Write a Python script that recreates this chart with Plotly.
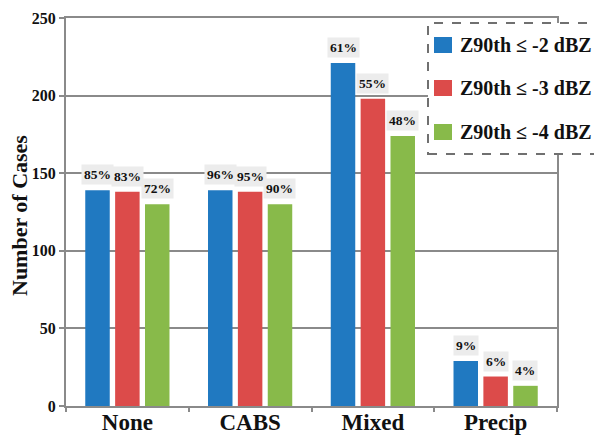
import plotly.graph_objects as go

categories = ["None", "CABS", "Mixed", "Precip"]
series_names = ["Z90th ≤ -2 dBZ", "Z90th ≤ -3 dBZ", "Z90th ≤ -4 dBZ"]
cases_2dbz = [139, 139, 221, 29]
cases_3dbz = [138, 138, 198, 19]
cases_4dbz = [130, 130, 174, 13]
pct_2dbz = ["85%", "96%", "61%", "9%"]
pct_3dbz = ["83%", "95%", "55%", "6%"]
pct_4dbz = ["72%", "90%", "48%", "4%"]
y_ticks = [0, 50, 100, 150, 200, 250]

colors = ["#2079c1", "#dc4b4a", "#88ba4a"]
font_family = "Liberation Serif"

# page body adds an 8px offset, so the figure is a bit smaller than the window
OFF = 8
W, H = 602 - OFF, 435 - OFF
# plot area in window pixels: x 66..557, y 18..406
L, R, T, B = 66 - OFF, 45, 18 - OFF, 29
PW, PH = W - L - R, H - T - B


def px(x):
    return (x - 66) / PW


def py(y):
    return (406 - y) / PH


bargap = 0.27
bargroupgap = 0.18
slot = (1 - bargap) / 3

values = [cases_2dbz, cases_3dbz, cases_4dbz]
pcts = [pct_2dbz, pct_3dbz, pct_4dbz]
xs = list(range(len(categories)))

fig = go.Figure()
for name, vals, col in zip(series_names, values, colors):
    fig.add_trace(go.Bar(x=xs, y=vals, name=name, marker=dict(color=col, line=dict(width=0)),
                         showlegend=False))

annotations = []
# percentage labels above bars
for j, (vals, labels) in enumerate(zip(values, pcts)):
    for i, (v, lab) in enumerate(zip(vals, labels)):
        annotations.append(dict(
            x=i + (j - 1) * slot, y=v, xref="x", yref="y", text="<b>%s</b>" % lab,
            showarrow=False, yanchor="bottom", yshift=5, bgcolor="#ececec", borderpad=2,
            font=dict(family=font_family, size=13.5, color="#111")))

# y axis title
annotations.append(dict(
    x=px(19), y=py(216), xref="paper", yref="paper", text="<b>Number of Cases</b>",
    textangle=-90, showarrow=False, xanchor="center", yanchor="middle",
    font=dict(family=font_family, size=22, color="#111")))

# manual legend with dashed box
shapes = [dict(type="rect", xref="paper", yref="paper", x0=px(428), x1=px(640), y0=py(154), y1=py(23),
               line=dict(color="#707070", width=2, dash="dash"), fillcolor="white", layer="above")]
row_y = [45, 88, 132]
for name, col, ry in zip(series_names, colors, row_y):
    shapes.append(dict(type="rect", xref="paper", yref="paper", x0=px(434), x1=px(452),
                       y0=py(ry + 8), y1=py(ry - 8), line=dict(width=0), fillcolor=col, layer="above"))
    annotations.append(dict(x=px(458), y=py(ry), xref="paper", yref="paper", text="<b>%s</b>" % name,
                            showarrow=False, xanchor="left", yanchor="middle",
                            font=dict(family=font_family, size=20, color="#111")))

fig.update_layout(
    width=W, height=H,
    margin=dict(l=L, r=R, t=T, b=B, autoexpand=False),
    paper_bgcolor="white", plot_bgcolor="white",
    barmode="group", bargap=bargap, bargroupgap=bargroupgap,
    shapes=shapes, annotations=annotations,
    showlegend=False,
)
fig.update_xaxes(
    range=[-0.5, len(categories) - 0.5], tickvals=xs, ticktext=["<b>%s</b>" % c for c in categories],
    tickfont=dict(family=font_family, size=23, color="#111"), showgrid=False, automargin=False,
    showline=True, linecolor="#8a8a8a", linewidth=2, mirror=True, ticks="", zeroline=False,
    ticklabelstandoff=-6,
    minor=dict(ticks="outside", tick0=0.5, dtick=1, ticklen=4, tickcolor="#8a8a8a", tickwidth=1.5),
)
fig.update_yaxes(
    range=[0, 250], tickvals=y_ticks, ticktext=["<b>%d</b>" % t for t in y_ticks],
    tickfont=dict(family=font_family, size=16, color="#111"), automargin=False,
    showgrid=True, gridcolor="#8a8a8a", gridwidth=2,
    showline=True, linecolor="#8a8a8a", linewidth=2, mirror=True,
    ticks="outside", ticklen=5, tickcolor="#8a8a8a", tickwidth=2, zeroline=False,
)

fig.write_html("out.html")
